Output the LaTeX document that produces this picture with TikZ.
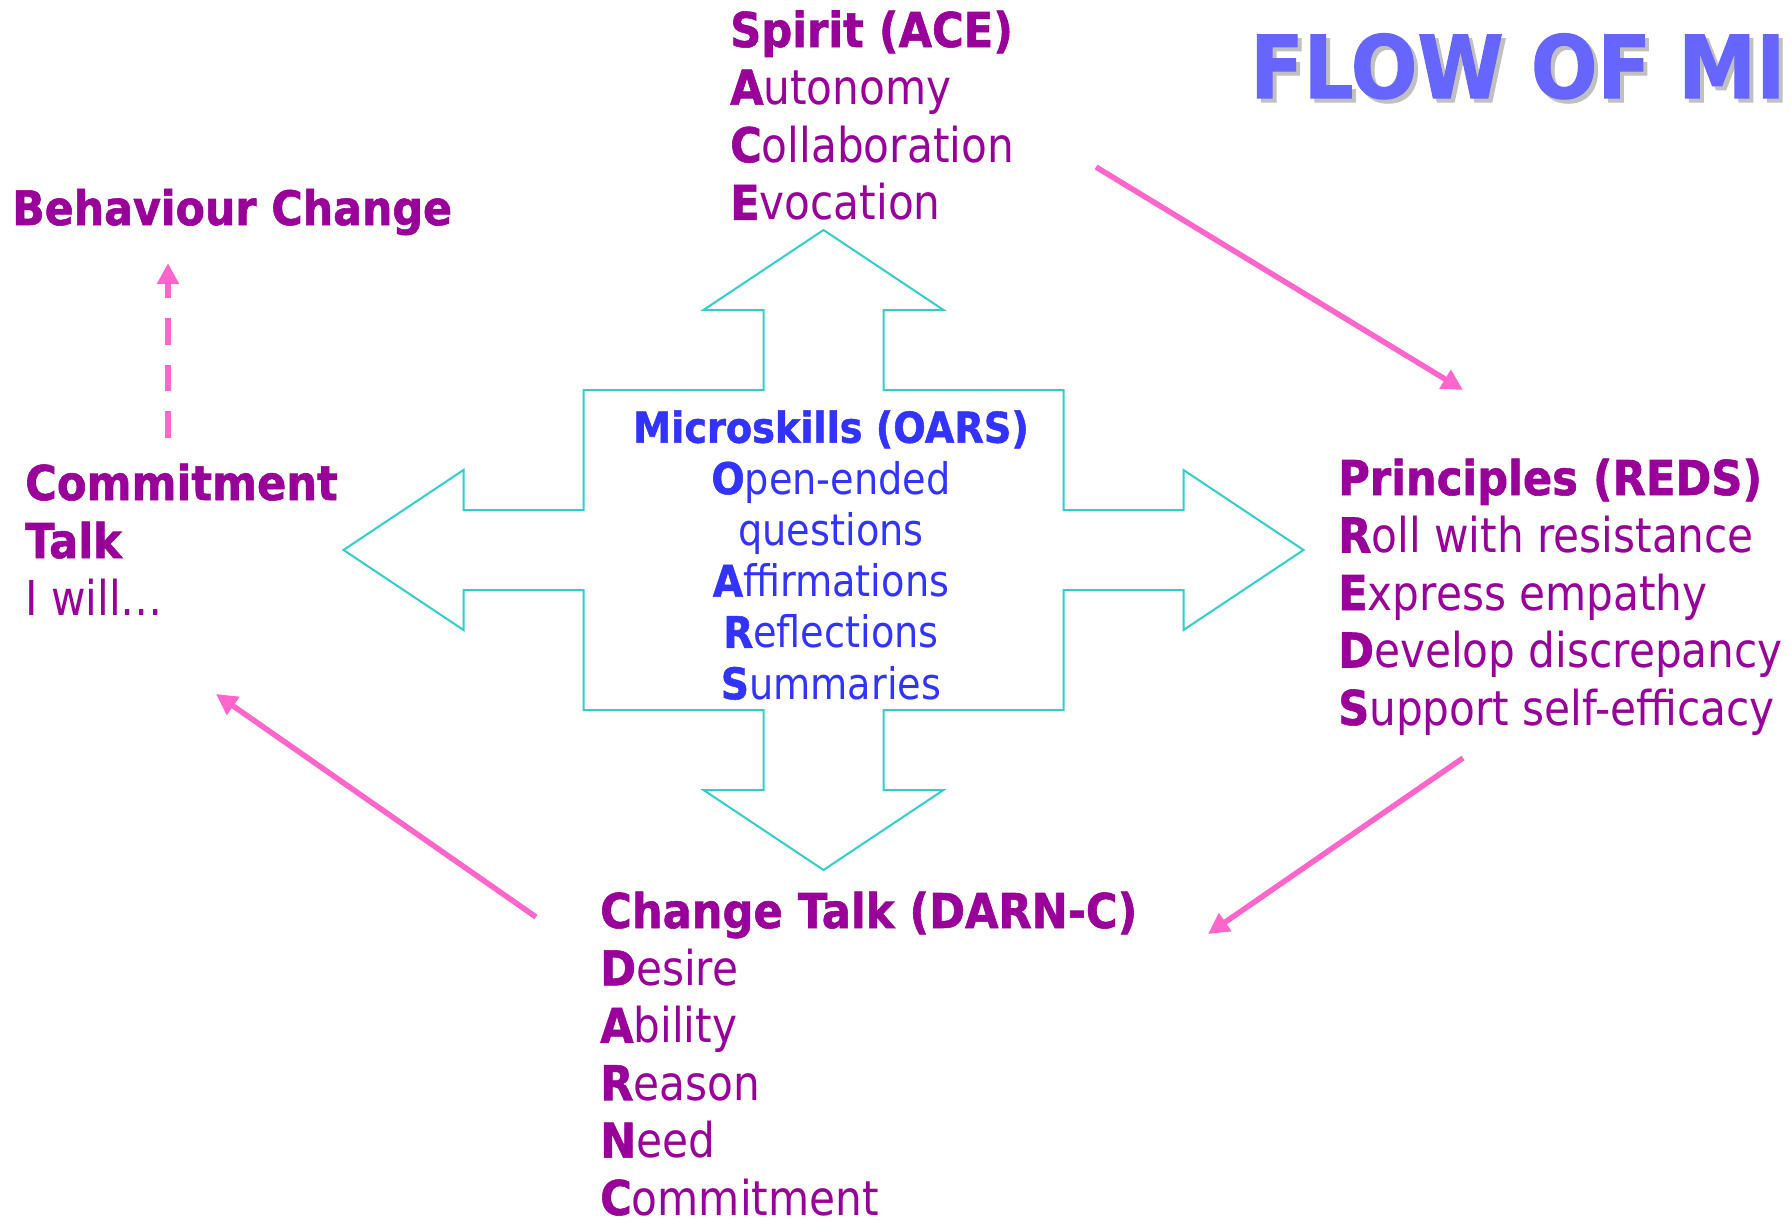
\documentclass[tikz,border=0pt]{standalone}
\usepackage{fontspec}
\setmainfont{DejaVu Sans}[UprightFeatures={FakeStretch=0.88},BoldFeatures={FakeStretch=0.9,FakeBold=1.2}]
\usetikzlibrary{arrows.meta}
\definecolor{mipurple}{HTML}{990099}
\definecolor{miblue}{HTML}{3333FF}
\definecolor{mititle}{HTML}{6666FF}
\definecolor{mishadow}{HTML}{C0C0C0}
\definecolor{micyan}{HTML}{33CCCC}
\definecolor{mipink}{HTML}{FF66CC}

\begin{document}
\begin{tikzpicture}[x=1pt,y=-1pt,
	head node/.style={anchor=base west,inner sep=0pt,text=mipurple,font=\fontsize{48}{57.5}\selectfont\bfseries},
	item node/.style={anchor=base west,inner sep=0pt,text=mipurple,font=\fontsize{48}{57.5}\selectfont},
	oars node/.style={anchor=base,inner sep=0pt,text=miblue,font=\fontsize{43.5}{51.5}\selectfont},
	title node/.style={anchor=base west,inner sep=0pt,text=mititle,font=\fontsize{87}{104}\selectfont\bfseries},
	cross line/.style={draw=micyan,line width=2pt},
	flow arrow/.style={draw=mipink,line width=5.5pt,-{Triangle[length=21pt,width=21pt]}}
]
	\useasboundingbox (0,0) rectangle (1791,1219);

	\def \cx {823.5};
	\def \cy {550};

	\draw[cross line, shift={(\cx,\cy)}] (0,-320) -- (120,-240) -- (60,-240) -- (60,-160) -- (240,-160) -- (240,-40) -- (360,-40) -- (360,-80) -- (480,0) -- (360,80) -- (360,40) -- (240,40) -- (240,160) -- (60,160) -- (60,240) -- (120,240) -- (0,320) -- (-120,240) -- (-60,240) -- (-60,160) -- (-240,160) -- (-240,40) -- (-360,40) -- (-360,80) -- (-480,0) -- (-360,-80) -- (-360,-40) -- (-240,-40) -- (-240,-160) -- (-60,-160) -- (-60,-240) -- (-120,-240) -- cycle;

	\node[title node, text=mishadow] (title shadow) at (1254,102) {FLOW OF MI};
	\node[title node] (title) at (1250,98) {FLOW OF MI};

	\node[head node] (spirit) at (730,47) {Spirit (ACE)};
	\foreach \a/\b [count=\i] in {A/utonomy,C/ollaboration,E/vocation}
		\node[item node] (spirit-\i) at (730,{47+57.6*\i}) {\textbf{\a}\b};

	\node[head node] (reds) at (1338,495) {Principles (REDS)};
	\foreach \a/\b [count=\i] in {R/oll with resistance,E/xpress empathy,D/evelop discrepancy,S/upport self-efficacy}
		\node[item node] (reds-\i) at (1338,{495+57.5*\i}) {\textbf{\a}\b};

	\node[head node] (darn) at (600,928) {Change Talk (DARN-C)};
	\foreach \a/\b [count=\i] in {D/esire,A/bility,R/eason,N/eed,C/ommitment}
		\node[item node] (darn-\i) at (600,{928+57.4*\i}) {\textbf{\a}\b};

	\node[head node] (talk) at (25,500) {Commitment};
	\node[head node] (talk-2) at (25,558) {Talk};
	\node[item node] (talk-3) at (25,615) {I will…};

	\node[head node, font=\fontsize{47.5}{57}\selectfont\bfseries] (change) at (12,225) {Behaviour Change};

	\node[oars node, font=\fontsize{42.5}{51.5}\selectfont\bfseries] (oars) at (831,442.7) {Microskills (OARS)};
	\foreach \t [count=\i] in {\textbf{O}pen-ended,questions,\textbf{A}ffirmations,\textbf{R}eflections,\textbf{S}ummaries}
		\node[oars node] (oars-\i) at (831,{442.7+51.3*\i}) {\t};

	\coordinate (spirit out) at (1096,167);
	\coordinate (reds in) at (1463,390);
	\coordinate (reds out) at (1463,758);
	\coordinate (darn in) at (1208,934);
	\coordinate (darn out) at (536,917);
	\coordinate (talk in) at (216,694);
	\coordinate (talk out) at (168,438);
	\coordinate (change in) at (168,263);

	\draw[flow arrow] (spirit out) -- (reds in);
	\draw[flow arrow] (reds out) -- (darn in);
	\draw[flow arrow] (darn out) -- (talk in);
	\draw[flow arrow, dash pattern=on 26.7pt off 20pt] (talk out) -- (change in);
\end{tikzpicture}
\end{document}
